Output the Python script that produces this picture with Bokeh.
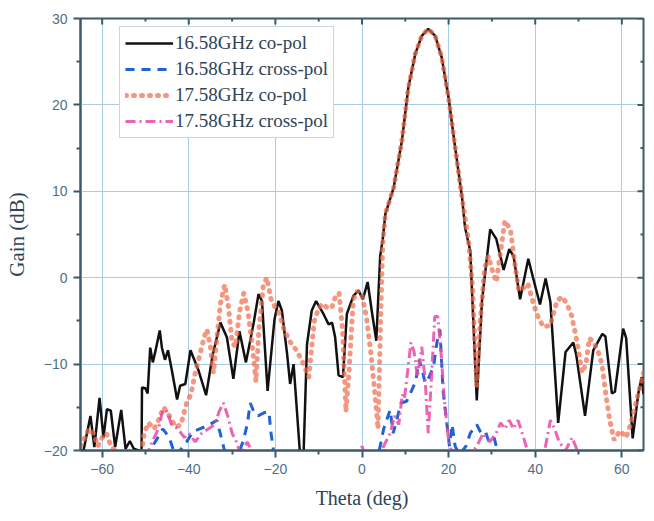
import math
from bokeh.plotting import figure
from bokeh.models import Range1d, FixedTicker
from bokeh.embed import file_html
from bokeh.resources import INLINE

# ---------------- data ----------------
x_ticks = [-60, -40, -20, 0, 20, 40, 60]
x_minor = [-50, -30, -10, 10, 30, 50]
y_ticks = [-20, -10, 0, 10, 20, 30]
y_minor = [-15, -5, 5, 15, 25]
x_lo, x_hi = -65, 65
y_lo, y_hi = -20, 30

co16_theta = [-65, -64.3, -62.7, -61.8, -60.6, -59.7, -58.9, -58.0, -57.0, -55.6, -54.6, -53.6, -52.7, -51.6,
              -50.9, -50.8, -50.0, -49.5, -48.9, -48.3, -47.7, -46.7, -46.2, -45.5, -44.8, -43.8, -42.7, -42.0,
              -40.8, -39.6, -37.7, -36.0, -34.5, -32.7, -31.2, -29.7, -28.3, -26.8, -25.0, -23.9, -23.1, -21.8,
              -20.2, -19.3, -18.5, -17.3, -16.6, -15.8, -14.3, -13.5, -12.7, -11.6, -10.6, -8.9, -7.7, -6.9,
              -6.2, -5.4, -4.4, -3.5, -2.0, -0.8, 0.2, 1.3, 2.3, 3.3, 4.2, 4.8, 5.4, 7.3, 9.2, 10.7, 12.3, 13.8,
              15.3, 16.9, 18.4, 20.0, 21.5, 23.1, 23.8, 25.0, 26.5, 27.7, 29.6, 31.0, 32.7, 34.0, 35.0, 36.5,
              38.4, 39.5, 41.1, 42.4, 43.5, 45.3, 47.0, 48.8, 49.5, 51.5, 53.4, 55.5, 56.2, 57.7, 58.4, 60.3,
              61.0, 62.5, 63.8, 64.6, 65]
co16_gain = [-20, -20, -16.0, -19.6, -13.9, -18.5, -15.2, -15.4, -19.6, -15.3, -19.8, -18.9, -19.8, -20,
             -20, -12.7, -12.8, -13.4, -8.1, -9.8, -8.5, -6.1, -8.1, -9.5, -8.4, -11.0, -14.1, -12.5,
             -12.3, -8.4, -10.8, -13.6, -9.0, -5.2, -6.9, -11.7, -6.2, -9.8, -5.2, -1.9, -2.7, -13.1,
             -4.8, -2.7, -3.8, -8.8, -12.3, -10.0, -20.5, -20.5, -7.7, -3.8, -2.7, -4.2, -5.4, -5.2,
             -6.9, -11.3, -11.5, -4.2, -2.1, -1.5, -2.5, -0.5, -4.0, -7.3, 2.5, 4.5, 7.4, 10.4, 15.8, 22.0, 25.9, 28.0,
             28.8, 28.0, 25.5, 20.8, 15.1, 9.3, 5.8, 3.1, -14.2, -2.7, 5.6, 4.5, 0.9, 3.3, 2.5, -2.5,
             2.2, 0.0, -3.1, -0.1, -2.8, -16.8, -8.6, -7.5, -9.0, -16.0, -8.4, -6.5, -6.8, -13.4, -13.2, -5.9,
             -7.0, -18.6, -13.4, -11.5, -13.5]

cx16_theta = [-65, -51, -50.5, -49, -47.5, -46, -44.5, -43.2, -42, -40.5, -39, -37.5, -36, -34.5, -33.5, -32.5,
              -31.5, -29, -27.5, -26.5, -25.8, -25, -24, -22.5, -21.5, -21, -20.3, -18, 0, 3.5, 4.2, 5, 6.5,
              7.2, 8, 9, 10.3, 11.5, 12.4, 13.2, 13.8, 14.6, 15.5, 16.5, 17.3, 18, 18.7, 19.5, 20.2, 20.8,
              21.5, 22.5, 24, 25, 26.5, 27.5, 28.5, 29.3, 30.5, 31.5, 35, 41, 42, 43, 65]
cx16_gain = [-23, -23, -21, -20, -18.8, -17.5, -18.5, -20.5, -20, -19, -17.8, -17.5, -17.2, -16.8, -16.5, -18.5,
             -20.5, -21, -19, -17, -14.5, -15.5, -16, -15.6, -15.5, -18, -20.5, -22, -22, -21, -19.5, -17.5, -15.3,
             -18, -16.5, -14.5, -14.3, -13, -12, -9.5, -10.5, -12.2, -11.5, -10.3, -7.5, -6, -13, -16.5, -19.5, -17,
             -19.5, -20.5, -19.5, -18, -17, -18, -17.8, -19, -18.5, -20.5, -21.5, -20.5, -20, -21, -22]

co17_theta = [-65, -64, -63, -62, -61, -60, -59, -58, -57, -54, -51, -50.3, -49.3, -48, -47, -45.8, -44.5, -43,
              -41.8, -40.5, -39.5, -38.5, -37.5, -36.5, -35.8, -35, -34.3, -33.5, -32.7, -31.7, -30.8, -30,
              -29.2, -28.3, -27.3, -26.3, -25.3, -24.5, -23.8, -22.8, -22, -21, -20, -19.2, -18, -16.5, -15,
              -13.5, -12.3, -11, -10, -9, -8, -7, -6, -5.3, -4.5, -3.7, -3, -2, -1, 0, 1, 2, 3, 3.7, 4.3, 4.8,
              5.4, 7.3, 9.2, 10.7, 12.3, 13.8, 15.3, 16.9, 18.4, 20.0, 21.5, 23.1, 24.6, 25.5, 26.5, 27.3, 28.3,
              29.2, 30, 31, 32, 33, 34.3, 35.2, 36.2, 37.3, 38.3, 39.6, 40.7, 41.9, 43.5, 45, 46.2, 47.3, 48.4,
              49.6, 50.8, 51.7, 52.5, 53.5, 54.5, 55.4, 56.3, 57.2, 58.2, 59.6, 61, 62, 63.4, 64.6, 65]
co17_gain = [-19.5, -18.5, -17.5, -18, -19.5, -18.5, -18, -19.5, -20, -20.5, -20.5, -18, -16.8, -17.5, -16.5, -15,
             -16, -17.3, -17, -14.5, -13.5, -11, -9, -7, -6, -8, -11, -7, -3, -0.8, -3.5, -7.5,
             -8, -4, -1.8, -4, -8, -12, -6, -1, 0, -2.5, -3.5, -4, -6, -7.5, -8.5,
             -10, -11.5, -5, -3.5, -3, -3.5, -3.5, -2, -1.8, -6, -15.5, -11, -2.5, -1.5, -2, -4.5, -8.5, -13.5,
             -17.5, -5, 4, 7.4, 10.4, 15.8, 22.0, 25.9, 28.0, 28.8, 28.0, 25.5, 20.8, 15.1, 9.3, 4.3, -1,
             -12.5, -5, 1, 2.5, 1, -0.5, 3, 6.6, 5.5, 2, -1.5, -1.2, -0.7, -3, -4.6, -5.7, -5.5, -2.7, -2.2,
             -3, -4.4, -7.3, -11, -10, -7, -7.5, -8.5, -10, -13.5, -16.5, -18.8, -17.7, -18.5, -17, -14.2,
             -11.9, -11]

cx17_theta = [-65, -51, -50, -48.5, -47, -46, -45, -44, -42.5, -41, -40, -38.5, -37, -35.5, -34, -33, -32,
              -31, -30, -29, -28, -26.5, -25.5, -24.5, -22, -2, -1, 0, 1, 4, 5, 6.5, 7.5, 8.5, 9.3, 9.8,
              10.5, 11.3, 12, 12.8, 13.8, 14.6, 15.3, 16, 16.8, 17.5, 18.3, 19, 20, 21, 23, 25, 26.5, 28,
              29.5, 31, 32, 33, 34, 35, 36, 37, 38.5, 42, 43.5, 44.5, 45.5, 47, 48.5, 49.3, 50.5, 65]
cx17_gain = [-23, -23, -21, -19, -17.5, -15.3, -15.5, -17, -17.5, -18.5, -18, -19, -18, -17.5, -17, -15.5,
             -14.5, -16, -18, -19, -20.5, -19, -20, -21, -23, -23, -21, -19.5, -21, -21, -19.5, -18, -16,
             -17, -13.5, -14, -11, -7.5, -8.5, -11.5, -8, -12, -18, -12, -4.5, -4.5, -9, -14, -19, -20.5,
             -20, -20.5, -19.5, -18, -19, -18, -16.8, -17.5, -16.5, -17.5, -16.5, -18, -20.5, -20.5, -16.5,
             -17.5, -19, -20, -18.5, -19.5, -21, -23]

# ---------------- styling ----------------
AXIS_C = "#3b5a6c"
TICK_LABEL_C = "#4d6f8a"
LABEL_C = "#2e4456"
GRID_C = "#a7cde8"

p = figure(frame_width=563, frame_height=432, output_backend="svg", toolbar_location=None,
           x_range=Range1d(x_lo, x_hi), y_range=Range1d(y_lo, y_hi),
           min_border_left=80, min_border_top=18, min_border_right=4, min_border_bottom=10,
           x_axis_label="Theta (deg)", y_axis_label="Gain (dB)")
p.background_fill_color = "white"
p.border_fill_color = "white"
p.outline_line_color = AXIS_C
p.outline_line_width = 2

xt = FixedTicker(ticks=x_ticks, minor_ticks=x_minor)
yt = FixedTicker(ticks=y_ticks, minor_ticks=y_minor)
for ax in p.xaxis:
    ax.ticker = xt
for ax in p.yaxis:
    ax.ticker = yt

for ax in list(p.xaxis) + list(p.yaxis):
    ax.axis_line_color = AXIS_C
    ax.axis_line_width = 2
    ax.major_tick_line_color = AXIS_C
    ax.major_tick_line_width = 2
    ax.minor_tick_line_color = AXIS_C
    ax.minor_tick_line_width = 2
    ax.major_tick_out = 7
    ax.major_tick_in = 0
    ax.minor_tick_out = 4
    ax.minor_tick_in = 0
    ax.major_label_standoff = 6
    ax.major_label_text_font = "Liberation Sans"
    ax.major_label_text_font_size = "14px"
    ax.major_label_text_color = TICK_LABEL_C
    ax.axis_label_text_font = "Liberation Serif"
    ax.axis_label_text_font_style = "normal"
    ax.axis_label_text_color = LABEL_C

p.xaxis.axis_label_text_font_size = "20px"
p.yaxis.axis_label_text_font_size = "21px"
p.xaxis.axis_label_standoff = 10
p.yaxis.axis_label_standoff = 12

p.xgrid.grid_line_color = GRID_C
p.ygrid.grid_line_color = GRID_C
p.xgrid.grid_line_width = 1
p.ygrid.grid_line_width = 1

# inward ticks on top and right frame edges (half of each dash is clipped by the frame)
p.scatter(x_ticks, [y_hi] * len(x_ticks), marker="dash", angle=math.pi / 2, size=12,
          line_color=AXIS_C, line_width=2)
p.scatter(x_minor, [y_hi] * len(x_minor), marker="dash", angle=math.pi / 2, size=6,
          line_color=AXIS_C, line_width=2)
p.scatter([x_hi] * len(y_ticks), y_ticks, marker="dash", size=12, line_color=AXIS_C, line_width=2)
p.scatter([x_hi] * len(y_minor), y_minor, marker="dash", size=6, line_color=AXIS_C, line_width=2)

# ---------------- series ----------------
p.line(co16_theta, co16_gain, line_color="#111111", line_width=2.5,
       legend_label="16.58GHz co-pol")
p.line(cx16_theta, cx16_gain, line_color="#1f63d4", line_width=3, line_dash="9 7",
       legend_label="16.58GHz cross-pol")
p.line(co17_theta, co17_gain, line_color="#f06a4a", line_alpha=0.7, line_width=5,
       line_dash="1 7", line_cap="round", legend_label="17.58GHz co-pol")
p.line(cx17_theta, cx17_gain, line_color="#e84aa6", line_alpha=0.85, line_width=3,
       line_dash="10 4 2 4", legend_label="17.58GHz cross-pol")

lg = p.legend[0]
lg.location = (39, 312)
lg.border_line_color = "#8fb2cc"
lg.border_line_width = 1.5
lg.background_fill_color = "white"
lg.background_fill_alpha = 1
lg.label_text_font = "Liberation Serif"
lg.label_text_font_size = "19px"
lg.label_text_color = LABEL_C
lg.glyph_width = 48
lg.glyph_height = 20
lg.label_height = 20
lg.label_standoff = 2
lg.spacing = 4
lg.padding = 5
lg.margin = 0

open("out.html", "w").write(file_html(p, INLINE))
